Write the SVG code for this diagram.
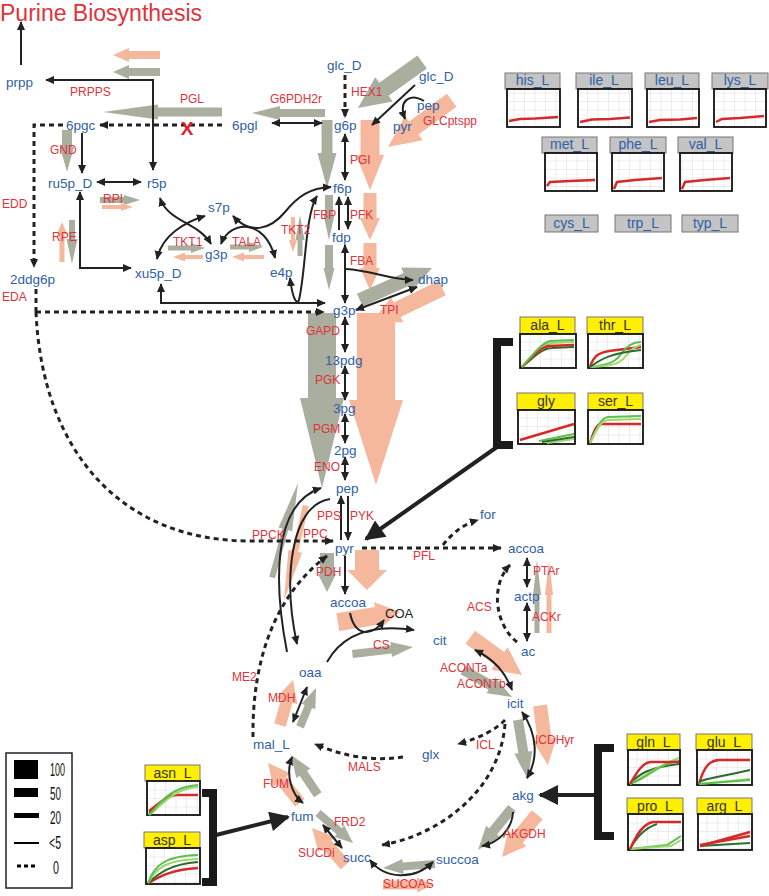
<svg xmlns="http://www.w3.org/2000/svg" width="769" height="896" viewBox="0 0 769 896">
<style>
.m{font-family:'Liberation Sans',Arial,sans-serif;font-size:13.5px;fill:#2f5fa6;dominant-baseline:central}
.r{font-family:'Liberation Sans',Arial,sans-serif;font-size:12px;fill:#e0323c;dominant-baseline:central}
.k{font-family:'Liberation Sans',Arial,sans-serif;font-size:13px;fill:#222;dominant-baseline:central}
.g{fill:#a9ae9f}
.s{fill:#f5b89d}
.c{fill:none;stroke:#222;stroke-width:2}
.d{fill:none;stroke:#222;stroke-width:3;stroke-dasharray:5 4}
.t{fill:none;stroke:#222;stroke-width:4}
.br{fill:none;stroke:#1a1a1a;stroke-width:8}
.hg{fill:#c4c4c4;stroke:#777;stroke-width:1}
.hy{fill:#ffef00;stroke:#777;stroke-width:1}
.ht{font-family:'Liberation Sans',Arial,sans-serif;font-size:14px;fill:#2f5fa6;text-anchor:middle;dominant-baseline:central}
.hk{font-family:'Liberation Sans',Arial,sans-serif;font-size:14px;fill:#333;text-anchor:middle;dominant-baseline:central}
.bx{fill:url(#gp);stroke:#111;stroke-width:1.8}
.rl{fill:none;stroke:#d42a2a;stroke-width:2.5}
.gl{fill:none;stroke:#5cbf4a;stroke-width:2}
.ll{fill:none;stroke:#9bd870;stroke-width:2}
.dl{fill:none;stroke:#2e6b2e;stroke-width:2}
.lg{font-family:'Liberation Sans',Arial,sans-serif;font-size:19px;fill:#111}
</style>
<defs>
<marker id="ah" viewBox="0 0 10 10" refX="9" refY="5" markerWidth="9" markerHeight="9" markerUnits="userSpaceOnUse" orient="auto-start-reverse"><path d="M0,0.5 L10,5 L0,9.5 z" fill="#222"/></marker>
<marker id="ab" viewBox="0 0 10 10" refX="9" refY="5" markerWidth="24" markerHeight="20" markerUnits="userSpaceOnUse" orient="auto-start-reverse"><path d="M0,0 L10,5 L0,10 z" fill="#222"/></marker>
<pattern id="gp" width="10.5" height="8.5" patternUnits="userSpaceOnUse"><rect width="10.5" height="8.5" fill="#fff"/><path d="M10.5,0 V8.5 M0,8.5 H10.5" stroke="#dcdcdc" stroke-width="1" fill="none"/></pattern>
</defs>
<rect width="769" height="896" fill="#fff"/>

<text x="0" y="21" font-family="'Liberation Sans',Arial,sans-serif" font-size="23" fill="#e0323c">Purine Biosynthesis</text>

<g id="fluxes">
<polygon class="s" transform="translate(113,55) rotate(180)" points="-47,-4 -16,-4 -16,-7 0,0 -16,7 -16,4 -47,4"/>
<polygon class="g" transform="translate(113,72) rotate(180)" points="-47,-4 -16,-4 -16,-7 0,0 -16,7 -16,4 -47,4"/>
<polygon class="g" transform="translate(103,112) rotate(180)" points="-119,-4.5 -55,-4.5 -55,-7.5 0,0 -55,7.5 -55,4.5 -119,4.5"/>
<polygon class="g" transform="translate(252,113) rotate(180)" points="-73,-4 -28,-4 -28,-7 0,0 -28,7 -28,4 -73,4"/>
<polygon class="g" transform="translate(358,108) rotate(144.3)" points="-79,-8 -32,-8 -32,-15 0,0 -32,15 -32,8 -79,8"/>
<polygon class="s" transform="translate(388,147) rotate(143.7)" points="-79,-8 -32,-8 -32,-15 0,0 -32,15 -32,8 -79,8"/>
<polygon class="g" transform="translate(327,188) rotate(90)" points="-68,-5.5 -35,-5.5 -35,-9.5 0,0 -35,9.5 -35,5.5 -68,5.5"/>
<polygon class="s" transform="translate(370,190) rotate(90)" points="-70,-9.5 -35,-9.5 -35,-14 0,0 -35,14 -35,9.5 -70,9.5"/>
<polygon class="g" transform="translate(329,240) rotate(90)" points="-45,-4 -25,-4 -25,-5.5 0,0 -25,5.5 -25,4 -45,4"/>
<polygon class="s" transform="translate(370,240) rotate(90)" points="-47,-6.5 -22,-6.5 -22,-10 0,0 -22,10 -22,6.5 -47,6.5"/>
<polygon class="g" transform="translate(329,290) rotate(90)" points="-45,-4 -22,-4 -22,-5.5 0,0 -22,5.5 -22,4 -45,4"/>
<polygon class="s" transform="translate(370,290) rotate(90)" points="-47,-6.5 -22,-6.5 -22,-10 0,0 -22,10 -22,6.5 -47,6.5"/>
<polygon class="g" transform="translate(432,268) rotate(-24)" points="-79,-7 -28,-7 -28,-13 0,0 -28,13 -28,7 -79,7"/>
<polygon class="s" transform="translate(372,322) rotate(154.1)" points="-78,-8 -28,-8 -28,-14 0,0 -28,14 -28,8 -78,8"/>
<polygon class="g" transform="translate(322,488) rotate(90)" points="-175,-14 -90,-14 -90,-22 0,0 -90,22 -90,14 -175,14"/>
<polygon class="s" transform="translate(376,485) rotate(90)" points="-172,-19 -85,-19 -85,-27 0,0 -85,27 -85,19 -172,19"/>
<polygon class="g" transform="translate(298,483) rotate(-74.7)" points="-98,-3 -48,-3 -48,-7 0,0 -48,7 -48,3 -98,3"/>
<polygon class="s" transform="translate(284,600) rotate(103)" points="-97,-3 -50,-3 -50,-7 0,0 -50,7 -50,3 -97,3"/>
<polygon class="g" transform="translate(327,592) rotate(90)" points="-39,-7 -18,-7 -18,-9 0,0 -18,9 -18,7 -39,7"/>
<polygon class="s" transform="translate(367,590) rotate(90)" points="-40,-12 -20,-12 -20,-20 0,0 -20,20 -20,12 -40,12"/>
<polygon class="s" transform="translate(400,612) rotate(-9.2)" points="-63,-9 -24,-9 -24,-14 0,0 -24,14 -24,9 -63,9"/>
<polygon class="g" transform="translate(413,647) rotate(-6.5)" points="-61,-4 -22,-4 -22,-7.5 0,0 -22,7.5 -22,4 -61,4"/>
<polygon class="s" transform="translate(522,675) rotate(36.2)" points="-64,-8 -28,-8 -28,-14 0,0 -28,14 -28,8 -64,8"/>
<polygon class="g" transform="translate(512,697) rotate(28.9)" points="-56,-5 -24,-5 -24,-9 0,0 -24,9 -24,5 -56,5"/>
<polygon class="s" transform="translate(548,765) rotate(82.4)" points="-60,-7 -26,-7 -26,-12 0,0 -26,12 -26,7 -60,7"/>
<polygon class="g" transform="translate(528,780) rotate(80.5)" points="-61,-5 -28,-5 -28,-9 0,0 -28,9 -28,5 -61,5"/>
<polygon class="s" transform="translate(502,857) rotate(129.8)" points="-55,-7 -24,-7 -24,-12 0,0 -24,12 -24,7 -55,7"/>
<polygon class="g" transform="translate(478,850) rotate(129)" points="-54,-5 -24,-5 -24,-9 0,0 -24,9 -24,5 -54,5"/>
<polygon class="g" transform="translate(383,868) rotate(175.6)" points="-52,-4 -20,-4 -20,-7.5 0,0 -20,7.5 -20,4 -52,4"/>
<polygon class="s" transform="translate(433,885) rotate(0)" points="-50,-4.5 -16,-4.5 -16,-7.5 0,0 -16,7.5 -16,4.5 -50,4.5"/>
<polygon class="s" transform="translate(312,828) rotate(-131.7)" points="-50,-6 -22,-6 -22,-11 0,0 -22,11 -22,6 -50,6"/>
<polygon class="g" transform="translate(353,843) rotate(40.6)" points="-46,-4 -18,-4 -18,-7.5 0,0 -18,7.5 -18,4 -46,4"/>
<polygon class="s" transform="translate(268,763) rotate(-128.7)" points="-51,-6 -22,-6 -22,-11 0,0 -22,11 -22,6 -51,6"/>
<polygon class="g" transform="translate(291,755) rotate(-124)" points="-48,-4.5 -22,-4.5 -22,-8.5 0,0 -22,8.5 -22,4.5 -48,4.5"/>
<polygon class="s" transform="translate(293,680) rotate(-73.9)" points="-47,-6 -22,-6 -22,-11 0,0 -22,11 -22,6 -47,6"/>
<polygon class="g" transform="translate(316,688) rotate(-67.7)" points="-42,-4 -20,-4 -20,-7.5 0,0 -20,7.5 -20,4 -42,4"/>
<polygon class="g" transform="translate(205,248) rotate(0)" points="-37,-2.5 -14,-2.5 -14,-5 0,0 -14,5 -14,2.5 -37,2.5"/>
<polygon class="s" transform="translate(173,257) rotate(180)" points="-30,-2 -12,-2 -12,-4.5 0,0 -12,4.5 -12,2 -30,2"/>
<polygon class="g" transform="translate(263,247) rotate(0)" points="-33,-2.5 -14,-2.5 -14,-5 0,0 -14,5 -14,2.5 -33,2.5"/>
<polygon class="s" transform="translate(232,257) rotate(180)" points="-32,-2 -12,-2 -12,-4.5 0,0 -12,4.5 -12,2 -32,2"/>
<polygon class="s" transform="translate(293,252) rotate(90)" points="-35,-2 -12,-2 -12,-4 0,0 -12,4 -12,2 -35,2"/>
<polygon class="g" transform="translate(300,215) rotate(-90)" points="-41,-2.5 -25,-2.5 -25,-4.5 0,0 -25,4.5 -25,2.5 -41,2.5"/>
<polygon class="g" transform="translate(140,200) rotate(0)" points="-40,-3 -16,-3 -16,-5 0,0 -16,5 -16,3 -40,3"/>
<polygon class="s" transform="translate(133,207) rotate(0)" points="-31,-2 -12,-2 -12,-4 0,0 -12,4 -12,2 -31,2"/>
<polygon class="g" transform="translate(67,172) rotate(90)" points="-42,-5 -25,-5 -25,-7 0,0 -25,7 -25,5 -42,5"/>
<polygon class="s" transform="translate(62,222) rotate(-90)" points="-40,-2.5 -12,-2.5 -12,-5 0,0 -12,5 -12,2.5 -40,2.5"/>
<polygon class="g" transform="translate(72,264) rotate(90)" points="-44,-3 -25,-3 -25,-5.5 0,0 -25,5.5 -25,3 -44,3"/>
<polygon class="g" transform="translate(537,560) rotate(-90)" points="-73,-2.5 -35,-2.5 -35,-4 0,0 -35,4 -35,2.5 -73,2.5"/>
<polygon class="s" transform="translate(549,560) rotate(-90)" points="-73,-2.5 -35,-2.5 -35,-4 0,0 -35,4 -35,2.5 -73,2.5"/>
</g>

<g id="connectors">
<path class="c" marker-end="url(#ah)" d="M21,65 L21,22"/>
<path class="c" marker-start="url(#ah)" marker-end="url(#ah)" d="M153,170 L153,80 L46,80"/>
<path class="d" marker-end="url(#ah)" d="M222,125 L100,125"/>
<path class="d" marker-end="url(#ah)" d="M63,125 L34,125 L34,267"/>
<path class="d" d="M36,289 L36,312"/>
<path class="d" marker-end="url(#ah)" d="M36,312 L324,312"/>
<path class="d" marker-end="url(#ah)" d="M36,312 C42,450 120,541 250,541 L333,541"/>
<path class="c" marker-start="url(#ah)" marker-end="url(#ah)" d="M161,284 L161,303 L325,303"/>
<path class="c" marker-end="url(#ah)" d="M82,133 L82,173"/>
<path class="c" marker-start="url(#ah)" marker-end="url(#ah)" d="M97,182 L141,182"/>
<path class="c" marker-start="url(#ah)" marker-end="url(#ah)" d="M80,192 L80,268 L131,268"/>
<path class="c" marker-start="url(#ah)" marker-end="url(#ah)" d="M160,198 C168,222 198,222 211,244"/>
<path class="c" marker-start="url(#ah)" marker-end="url(#ah)" d="M157,259 C162,235 185,222 205,216"/>
<path class="c" marker-start="url(#ah)" marker-end="url(#ah)" d="M221,244 C230,220 265,218 275,258"/>
<path class="c" marker-start="url(#ah)" marker-end="url(#ah)" d="M233,216 C250,235 270,230 285,212 C298,196 310,188 331,187"/>
<path class="c" marker-start="url(#ah)" marker-end="url(#ah)" d="M290,278 C292,295 296,306 299,300 C306,270 305,215 317,196"/>
<path class="d" marker-end="url(#ah)" d="M345,75 L345,117"/>
<path class="c" marker-start="url(#ah)" marker-end="url(#ah)" d="M272,123 L322,123"/>
<path class="c" marker-end="url(#ah)" d="M415,85 L372,125"/>
<path class="c" marker-end="url(#ah)" d="M424,101 C410,93 398,100 405,119"/>
<path class="c" marker-start="url(#ah)" marker-end="url(#ah)" d="M345,134 L345,180"/>
<path class="c" marker-end="url(#ah)" d="M339,230 L339,197"/>
<path class="c" marker-start="url(#ah)" marker-end="url(#ah)" d="M348,197 L348,229"/>
<path class="c" marker-start="url(#ah)" marker-end="url(#ah)" d="M345,245 L345,303"/>
<path class="c" marker-end="url(#ah)" d="M346,269 C370,270 390,280 413,280"/>
<path class="c" marker-start="url(#ah)" marker-end="url(#ah)" d="M356,310 L417,287"/>
<path class="c" marker-start="url(#ah)" marker-end="url(#ah)" d="M345,317 L345,352"/>
<path class="c" marker-start="url(#ah)" marker-end="url(#ah)" d="M345,366 L345,400"/>
<path class="c" marker-start="url(#ah)" marker-end="url(#ah)" d="M345,414 L345,443"/>
<path class="c" marker-start="url(#ah)" marker-end="url(#ah)" d="M345,457 L345,480"/>
<path class="c" marker-end="url(#ah)" d="M341,540 L341,496"/>
<path class="c" marker-end="url(#ah)" d="M348,496 L348,540"/>
<path class="c" marker-end="url(#ah)" d="M345,556 L345,594"/>
<path class="d" marker-end="url(#ah)" d="M362,548 L501,548"/>
<path class="d" marker-end="url(#ah)" d="M443,545 C455,530 465,524 478,520"/>
<path class="d" marker-end="url(#ah)" d="M253,737 C252,660 275,595 327,556"/>
<path class="c" marker-end="url(#ah)" d="M287,652 C275,590 270,505 321,488"/>
<path class="c" marker-end="url(#ah)" d="M330,499 C290,505 283,580 297,644"/>
<path class="t" marker-end="url(#ab)" d="M497,447 L366,539"/>
<path class="c" marker-start="url(#ah)" marker-end="url(#ah)" d="M527,558 L527,587"/>
<path class="c" marker-start="url(#ah)" marker-end="url(#ah)" d="M527,603 L527,641"/>
<path class="d" marker-end="url(#ah)" d="M517,642 C495,625 490,585 510,565"/>
<path class="c" marker-end="url(#ah)" d="M350,613 C355,637 372,637 384,620"/>
<path class="c" marker-end="url(#ah)" d="M327,662 C345,630 380,625 414,630"/>
<path class="c" marker-start="url(#ah)" marker-end="url(#ah)" d="M475,650 C495,660 505,672 512,690"/>
<path class="c" marker-start="url(#ah)" marker-end="url(#ah)" d="M522,712 C538,735 538,760 527,778"/>
<path class="d" marker-end="url(#ah)" d="M505,720 C495,730 480,738 458,744"/>
<path class="d" marker-end="url(#ah)" d="M505,724 C500,790 440,835 382,845"/>
<path class="d" marker-end="url(#ah)" d="M403,757 C370,762 340,755 315,744"/>
<path class="c" marker-end="url(#ah)" d="M513,812 C512,830 498,843 482,846"/>
<path class="c" marker-start="url(#ah)" marker-end="url(#ah)" d="M370,860 C385,880 415,880 433,862"/>
<path class="c" marker-start="url(#ah)" marker-end="url(#ah)" d="M323,825 L342,848"/>
<path class="c" marker-start="url(#ah)" marker-end="url(#ah)" d="M292,757 C285,775 292,795 303,803"/>
<path class="c" marker-start="url(#ah)" marker-end="url(#ah)" d="M307,687 L293,722"/>
<path class="t" marker-end="url(#ab)" d="M597,795 L540,795"/>
<path class="t" marker-end="url(#ab)" d="M216,835 L288,817"/>
<path class="br" d="M513,342 L497,342 L497,445 L513,445"/>
<path class="br" d="M614,748 L598,748 L598,836 L614,836"/>
<path class="br" d="M202,793 L213,793 L213,882 L202,882"/>
</g>

<text x="187" y="135" text-anchor="middle" font-family="'Liberation Sans',Arial,sans-serif" font-size="19" font-weight="bold" fill="#e0202a">X</text>

<g id="metabolites">
<g id="n-prpp"><text class="m" x="6" y="82">prpp</text></g>
<g id="n-6pgc"><text class="m" x="66" y="125">6pgc</text></g>
<g id="n-6pgl"><text class="m" x="232" y="125">6pgl</text></g>
<g id="n-ru5p"><text class="m" x="48" y="183">ru5p_D</text></g>
<g id="n-r5p"><text class="m" x="147" y="183">r5p</text></g>
<g id="n-s7p"><text class="m" x="208" y="207">s7p</text></g>
<g id="n-g3p1"><text class="m" x="205" y="254">g3p</text></g>
<g id="n-xu5p"><text class="m" x="135" y="273">xu5p_D</text></g>
<g id="n-e4p"><text class="m" x="270" y="272">e4p</text></g>
<g id="n-2ddg6p"><text class="m" x="10" y="279">2ddg6p</text></g>
<g id="n-glc1"><text class="m" x="327" y="65">glc_D</text></g>
<g id="n-glc2"><text class="m" x="419" y="76">glc_D</text></g>
<g id="n-pep1"><text class="m" x="417" y="105">pep</text></g>
<g id="n-pyr1"><text class="m" x="393" y="126">pyr</text></g>
<g id="n-g6p"><text class="m" x="334" y="125">g6p</text></g>
<g id="n-f6p"><text class="m" x="333" y="188">f6p</text></g>
<g id="n-fdp"><text class="m" x="332" y="237">fdp</text></g>
<g id="n-dhap"><text class="m" x="418" y="279">dhap</text></g>
<g id="n-g3p"><text class="m" x="333" y="310">g3p</text></g>
<g id="n-13pdg"><text class="m" x="325" y="360">13pdg</text></g>
<g id="n-3pg"><text class="m" x="333" y="408">3pg</text></g>
<g id="n-2pg"><text class="m" x="334" y="450">2pg</text></g>
<g id="n-pep"><text class="m" x="336" y="488">pep</text></g>
<g id="n-pyr"><text class="m" x="335" y="548">pyr</text></g>
<g id="n-accoa"><text class="m" x="330" y="602">accoa</text></g>
<g id="n-for"><text class="m" x="480" y="514">for</text></g>
<g id="n-accoa2"><text class="m" x="508" y="548">accoa</text></g>
<g id="n-actp"><text class="m" x="514" y="596">actp</text></g>
<g id="n-ac"><text class="m" x="521" y="651">ac</text></g>
<g id="n-cit"><text class="m" x="433" y="640">cit</text></g>
<g id="n-icit"><text class="m" x="507" y="703">icit</text></g>
<g id="n-oaa"><text class="m" x="299" y="672">oaa</text></g>
<g id="n-mal"><text class="m" x="253" y="744">mal_L</text></g>
<g id="n-glx"><text class="m" x="422" y="754">glx</text></g>
<g id="n-akg"><text class="m" x="512" y="795">akg</text></g>
<g id="n-fum"><text class="m" x="291" y="816">fum</text></g>
<g id="n-succ"><text class="m" x="343" y="857">succ</text></g>
<g id="n-succoa"><text class="m" x="436" y="859">succoa</text></g>
<g id="n-coa"><text class="k" x="385" y="613">COA</text></g>
</g>

<g id="reactions">
<text class="r" x="70" y="92">PRPPS</text>
<text class="r" x="180" y="99">PGL</text>
<text class="r" x="50" y="150">GND</text>
<text class="r" x="103" y="199">RPI</text>
<text class="r" x="2" y="204">EDD</text>
<text class="r" x="52" y="237">RPE</text>
<text class="r" x="173" y="242">TKT1</text>
<text class="r" x="232" y="242">TALA</text>
<text class="r" x="281" y="230">TKT2</text>
<text class="r" x="2" y="297">EDA</text>
<text class="r" x="270" y="99">G6PDH2r</text>
<text class="r" x="351" y="92">HEX1</text>
<text class="r" x="423" y="121">GLCptspp</text>
<text class="r" x="350" y="160">PGI</text>
<text class="r" x="313" y="215">FBP</text>
<text class="r" x="350" y="215">PFK</text>
<text class="r" x="350" y="261">FBA</text>
<text class="r" x="380" y="310">TPI</text>
<text class="r" x="306" y="331">GAPD</text>
<text class="r" x="315" y="380">PGK</text>
<text class="r" x="313" y="429">PGM</text>
<text class="r" x="314" y="467">ENO</text>
<text class="r" x="317" y="516">PPS</text>
<text class="r" x="350" y="516">PYK</text>
<text class="r" x="252" y="535">PPCK</text>
<text class="r" x="303" y="534">PPC</text>
<text class="r" x="316" y="572">PDH</text>
<text class="r" x="413" y="556">PFL</text>
<text class="r" x="533" y="571">PTAr</text>
<text class="r" x="532" y="617">ACKr</text>
<text class="r" x="467" y="607">ACS</text>
<text class="r" x="373" y="645">CS</text>
<text class="r" x="440" y="668">ACONTa</text>
<text class="r" x="457" y="684">ACONTb</text>
<text class="r" x="535" y="740">ICDHyr</text>
<text class="r" x="476" y="745">ICL</text>
<text class="r" x="268" y="698">MDH</text>
<text class="r" x="232" y="677">ME2</text>
<text class="r" x="348" y="767">MALS</text>
<text class="r" x="263" y="784">FUM</text>
<text class="r" x="334" y="822">FRD2</text>
<text class="r" x="298" y="853">SUCDi</text>
<text class="r" x="503" y="834">AKGDH</text>
<text class="r" x="383" y="884">SUCOAS</text>
</g>

<g id="plots-gray">
<g id="p-his"><rect class="hg" x="505" y="73" width="55" height="16"/><rect class="bx" x="507" y="89" width="53" height="38"/><path class="rl" stroke-width="3.5" d="M509,121 L520,119 L535,118.5 L558,117"/><text class="ht" x="532.5" y="80">his_L</text></g>
<g id="p-ile"><rect class="hg" x="576" y="73" width="56" height="16"/><rect class="bx" x="578" y="89" width="54" height="38"/><path class="rl" stroke-width="3.5" d="M580,122 L592,119.5 L610,119 L630,117.5"/><text class="ht" x="604" y="80">ile_L</text></g>
<g id="p-leu"><rect class="hg" x="645" y="73" width="54" height="16"/><rect class="bx" x="647" y="89" width="52" height="38"/><path class="rl" stroke-width="3.5" d="M649,122 L660,120 L680,119.5 L697,118"/><text class="ht" x="672" y="80">leu_L</text></g>
<g id="p-lys"><rect class="hg" x="712" y="73" width="56" height="16"/><rect class="bx" x="714" y="89" width="52" height="38"/><path class="rl" stroke-width="3.5" d="M716,122 L722,119 L740,118 L764,116"/><text class="ht" x="740" y="80">lys_L</text></g>
<g id="p-met"><rect class="hg" x="542" y="137" width="55" height="16"/><rect class="bx" x="545" y="153" width="52" height="38"/><path class="rl" stroke-width="3.5" d="M547,186 L550,182 L570,181 L595,180"/><text class="ht" x="569.5" y="144">met_L</text></g>
<g id="p-phe"><rect class="hg" x="610" y="137" width="56" height="16"/><rect class="bx" x="612" y="153" width="52" height="38"/><path class="rl" stroke-width="3.5" d="M614,189 L617,182 L635,180 L662,178"/><text class="ht" x="638" y="144">phe_L</text></g>
<g id="p-val"><rect class="hg" x="678" y="137" width="55" height="16"/><rect class="bx" x="680" y="153" width="52" height="38"/><path class="rl" stroke-width="3.5" d="M682,189 L685,182 L705,180 L730,178"/><text class="ht" x="705.5" y="144">val_L</text></g>
<g id="p-cys"><rect class="hg" x="545" y="215" width="53" height="17"/><text class="ht" x="571.5" y="223">cys_L</text></g>
<g id="p-trp"><rect class="hg" x="615" y="215" width="56" height="17"/><text class="ht" x="643" y="223">trp_L</text></g>
<g id="p-typ"><rect class="hg" x="682" y="215" width="56" height="17"/><text class="ht" x="710" y="223">typ_L</text></g>
</g>

<g id="plots-yellow">
<g id="p-ala" transform="translate(520,317)"><rect class="hy" width="55" height="17"/><rect class="bx" y="17" width="56" height="34"/>
<path class="dl" d="M2,50 C12,42 22,31 32,31 L54,30"/><path class="ll" d="M2,50 C12,40 22,27 32,26 L54,25"/><path class="rl" d="M2,50 C10,42 18,32 28,29 L54,28"/><path class="gl" d="M2,50 C12,39 20,27 30,24 L54,23"/><text class="hk" x="27.5" y="8">ala_L</text></g>
<g id="p-thr" transform="translate(587,317)"><rect class="hy" width="56" height="17"/><rect class="bx" x="1" y="17" width="55" height="34"/>
<path class="rl" d="M3,50 C7,38 12,36 22,34 L54,30"/><path class="gl" d="M3,50 C20,48 28,46 34,37 C40,28 46,25 54,25"/><path class="ll" d="M3,50 C22,49 32,48 38,40 C44,32 48,29 54,28"/><path class="dl" d="M3,50 C14,42 24,36 54,33"/><text class="hk" x="28" y="8">thr_L</text></g>
<g id="p-gly" transform="translate(517,393)"><rect class="hy" width="58" height="17"/><rect class="bx" x="1" y="17" width="57" height="34"/>
<path class="gl" d="M22,48 L57,41"/><path class="ll" d="M30,50 L57,46"/><path class="dl" d="M25,49 L57,44"/><path class="rl" stroke-width="3.5" d="M3,47 L57,31"/><text class="hk" x="29" y="8">gly</text></g>
<g id="p-ser" transform="translate(588,393)"><rect class="hy" width="55" height="17"/><rect class="bx" y="17" width="55" height="34"/>
<path class="rl" d="M2,50 C6,38 8,31 14,31 L53,31"/><path class="gl" d="M2,50 C8,38 12,25 20,24 L53,23"/><path class="ll" d="M2,50 C8,38 12,28 20,27 L53,26"/><text class="hk" x="27.5" y="8">ser_L</text></g>
<g id="p-gln" transform="translate(627,734)"><rect class="hy" width="53" height="16"/><rect class="bx" x="1" y="16" width="52" height="35"/>
<path class="dl" d="M3,50 C12,40 20,34 52,30"/><path class="ll" d="M3,50 C15,44 30,32 52,24"/><path class="gl" d="M3,50 C20,45 30,30 52,27"/><path class="rl" d="M3,50 C10,38 16,28 24,28 L52,28"/><text class="hk" x="26.5" y="7.5">gln_L</text></g>
<g id="p-glu" transform="translate(696,734)"><rect class="hy" width="56" height="16"/><rect class="bx" x="1" y="16" width="55" height="35"/>
<path class="rl" d="M3,50 C8,32 14,26 24,26 L54,26"/><path class="dl" d="M3,48 C10,44 20,44 54,36"/><path class="ll" d="M3,50 L54,45"/><path class="gl" d="M3,50 L54,46"/><text class="hk" x="28" y="7.5">glu_L</text></g>
<g id="p-pro" transform="translate(627,798)"><rect class="hy" width="56" height="16"/><rect class="bx" x="1" y="16" width="55" height="36"/>
<path class="gl" d="M3,51 L40,47 L54,38"/><path class="ll" d="M3,51 L44,48 L54,42"/><path class="dl" d="M3,51 C10,38 18,30 30,26"/><path class="rl" d="M3,51 C10,36 16,26 26,24 L54,24"/><text class="hk" x="28" y="7.5">pro_L</text></g>
<g id="p-arg" transform="translate(697,798)"><rect class="hy" width="55" height="16"/><rect class="bx" x="1" y="16" width="54" height="36"/>
<path class="dl" d="M3,48 L53,45"/><path class="rl" d="M3,48 L53,34"/><path class="rl" d="M3,47 L53,38"/><text class="hk" x="27.5" y="7.5">arg_L</text></g>
<g id="p-asn" transform="translate(145,765)"><rect class="hy" width="55" height="16"/><rect class="bx" x="2" y="16" width="53" height="34"/>
<path class="dl" d="M4,48 C12,40 20,32 28,30"/><path class="rl" d="M4,46 C12,40 22,30 32,30 L53,30"/><path class="ll" d="M4,50 C16,42 26,24 53,22"/><path class="gl" d="M4,50 C14,40 24,22 53,20"/><text class="hk" x="27.5" y="7.5">asn_L</text></g>
<g id="p-asp" transform="translate(144,832)"><rect class="hy" width="56" height="16"/><rect class="bx" x="2" y="16" width="54" height="36"/>
<path class="rl" d="M4,51 C14,46 24,38 54,36"/><path class="dl" d="M4,51 C14,42 26,32 54,30"/><path class="ll" d="M4,51 C12,36 22,28 54,27"/><path class="gl" d="M4,51 C10,34 20,24 54,23"/><text class="hk" x="28" y="7.5">asp_L</text></g>
</g>

<g id="legend">
<rect x="6" y="753" width="66" height="135" fill="#fff" stroke="#222" stroke-width="1.5"/>
<rect x="14" y="760" width="24" height="19" fill="#000"/>
<rect x="14" y="788" width="24" height="9" fill="#000"/>
<rect x="14" y="813" width="25" height="5" fill="#000"/>
<path d="M14,843 L39,843" stroke="#000" stroke-width="2"/>
<path d="M17,866 L38,866" stroke="#000" stroke-width="3" stroke-dasharray="4 3"/>
<text class="lg" x="50" y="776" textLength="15" lengthAdjust="spacingAndGlyphs">100</text>
<text class="lg" x="50" y="800" textLength="11" lengthAdjust="spacingAndGlyphs">50</text>
<text class="lg" x="50" y="824" textLength="11" lengthAdjust="spacingAndGlyphs">20</text>
<text class="lg" x="49" y="849" textLength="12" lengthAdjust="spacingAndGlyphs">&lt;5</text>
<text class="lg" x="53" y="874" textLength="6" lengthAdjust="spacingAndGlyphs">0</text>
</g>
</svg>
